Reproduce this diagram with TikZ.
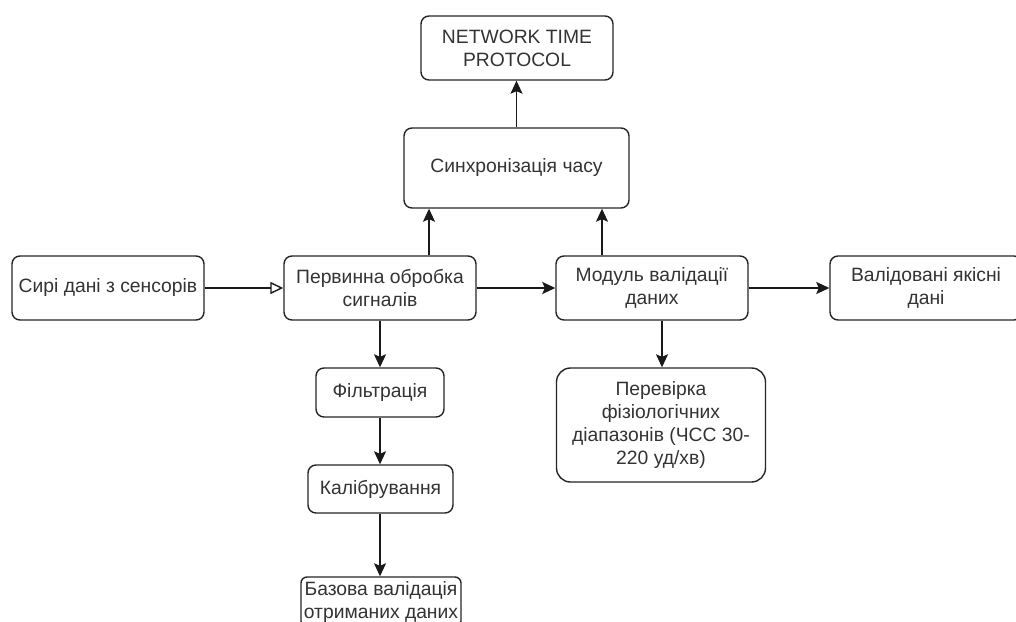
\documentclass[tikz,border=0pt]{standalone}
\usepackage{fontspec}
\setmainfont{Liberation Sans}
\usetikzlibrary{arrows.meta}
\tikzset{
  box/.style={draw=black!85, rounded corners=8pt, line width=1.4pt, align=center,
    inner sep=0pt, text=black!80, font=\fontsize{19.3}{22.8}\selectfont},
  arr/.style={draw=black!90, line width=1.4pt, -{Stealth[length=13pt,width=12pt,inset=2.5pt]}},
  openarr/.style={draw=black!90, line width=1.4pt, -{Triangle[open,length=13pt,width=12pt]}},
}
\begin{document}
\begin{tikzpicture}[x=1pt, y=-1pt]
  \clip (0,0) rectangle (1016,621);
  \fill[white] (0,0) rectangle (1016,621);

  % upper row
  \node[box, minimum width=192pt, minimum height=64pt] (ntp) at (517,48) {NETWORK TIME\\PROTOCOL};
  \node[box, minimum width=225pt, minimum height=80pt] (sync) at (516.5,168) {Синхронізація часу};

  % main pipeline
  \node[box, minimum width=192pt, minimum height=64pt] (raw) at (108,288) {Сирі дані з сенсорів};
  \node[box, minimum width=192pt, minimum height=64pt] (prim) at (380,288) {Первинна обробка\\сигналів};
  \node[box, minimum width=192pt, minimum height=64pt] (mod) at (652,288) {Модуль валідації\\даних};
  \node[box, minimum width=192pt, minimum height=64pt] (valid) at (926,288) {Валідовані якісні\\дані};

  % preprocessing chain
  \node[box, minimum width=128pt, minimum height=49pt] (filt) at (380,392.5) {Фільтрація};
  \node[box, minimum width=145pt, minimum height=48pt] (cal) at (380.5,489) {Калібрування};
  \node[box, minimum width=160pt, minimum height=50pt, rounded corners=6pt] (base) at (381,602) {Базова валідація\\отриманих даних};

  % range check
  \node[box, minimum width=209pt, minimum height=114pt, rounded corners=14pt] (check) at (661,425)
    {Перевірка\\фізіологічних\\діапазонів (ЧСС 30-\\220 уд/хв)};

  % connectors
  \draw[openarr] (raw.east) -- (prim.west);
  \draw[arr] (prim.east) -- (mod.west);
  \draw[arr] (mod.east) -- (valid.west);
  \draw[arr] ([xshift=49pt]prim.north) -- ([xshift=49pt]prim.north |- sync.south);
  \draw[arr] ([xshift=-50pt]mod.north) -- ([xshift=-50pt]mod.north |- sync.south);
  \draw[arr] (sync.north) -- (sync.north |- ntp.south);
  \draw[arr] (prim.south) -- (prim.south |- filt.north);
  \draw[arr] (filt.south) -- (filt.south |- cal.north);
  \draw[arr] (cal.south -| filt.south) -- (filt.south |- base.north);
  \draw[arr] ([xshift=10pt]mod.south) -- ([xshift=10pt]mod.south |- check.north);
\end{tikzpicture}
\end{document}
